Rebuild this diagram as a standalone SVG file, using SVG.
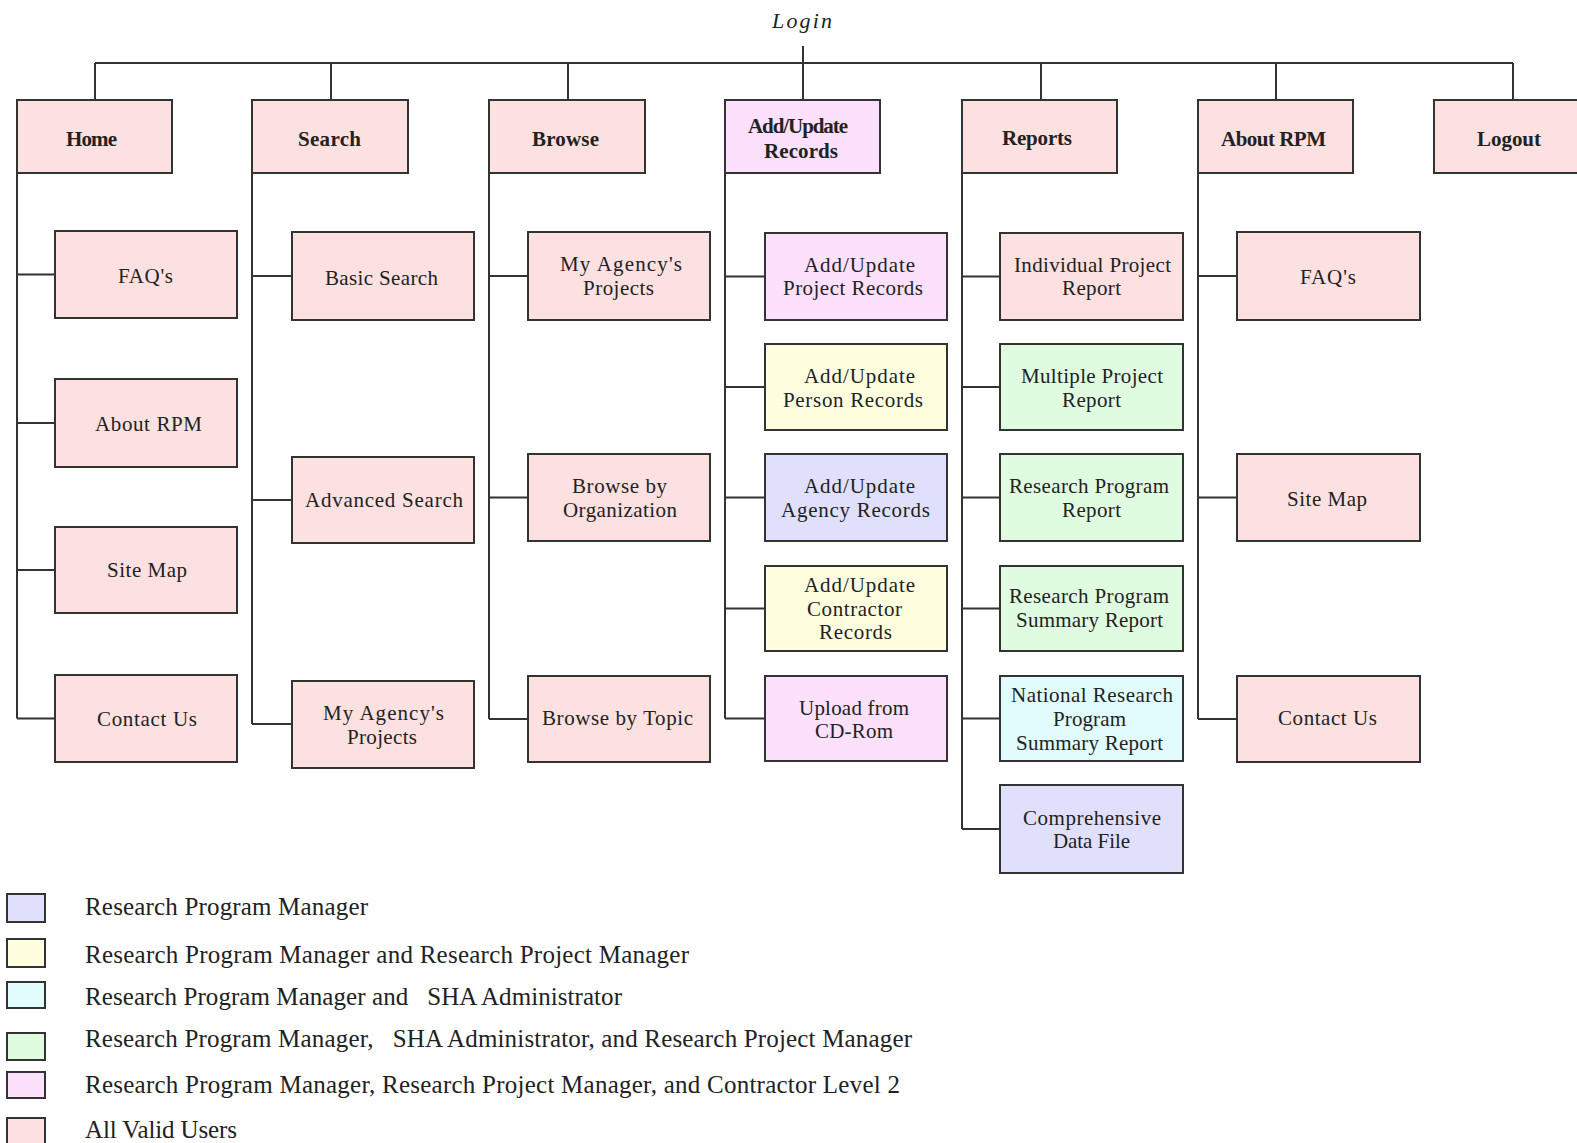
<svg xmlns="http://www.w3.org/2000/svg" width="1577" height="1143" viewBox="0 0 1577 1143">
<style>
  .b{stroke:#333;stroke-width:2}
  .pk{fill:#FDE0E0}
  .lv{fill:#FCE0FC}
  .ye{fill:#FFFFE0}
  .bl{fill:#E0E0FC}
  .gr{fill:#E0FCE0}
  .cy{fill:#E0FCFC}
  text{font-family:"Liberation Serif","Times New Roman",serif;fill:#222}
  .h{font-size:21px;font-weight:bold}
  .t{font-size:21px}
  .lg{font-size:25px}
  .c{fill:none;stroke:#333;stroke-width:2}
</style>
<rect width="1577" height="1143" fill="#fff"/>
<text x="772" y="28" style="font-size:22px;font-style:italic" textLength="60" lengthAdjust="spacing">Login</text>
<g id="connectors">
  <path class="c" d="M803,46V100 M95,63H1513 M95,63V100 M331,63V100 M568,63V100 M1041,63V100 M1276,63V100 M1513,63V100"/>
  <path class="c" d="M17,173V718.5 M17,274.5H55 M17,423H55 M17,570H55 M17,718.5H55"/>
  <path class="c" d="M252,173V724 M252,276H292 M252,500H292 M252,724H292"/>
  <path class="c" d="M489,173V719 M489,276H528 M489,497.5H528 M489,719H528"/>
  <path class="c" d="M725,173V718.5 M725,276.5H765 M725,387H765 M725,497.5H765 M725,608.5H765 M725,718.5H765"/>
  <path class="c" d="M962,173V829 M962,276.5H1000 M962,387H1000 M962,497.5H1000 M962,608.5H1000 M962,718.5H1000 M962,829H1000"/>
  <path class="c" d="M1198,173V719 M1198,276H1237 M1198,497.5H1237 M1198,719H1237"/>
</g>
<g id="home"><rect class="b pk" x="17" y="100" width="155" height="73"/><text class="h" x="66" y="146" textLength="51" lengthAdjust="spacing">Home</text></g>
<g id="search"><rect class="b pk" x="252" y="100" width="156" height="73"/><text class="h" x="298" y="146" textLength="63" lengthAdjust="spacing">Search</text></g>
<g id="browse"><rect class="b pk" x="489" y="100" width="156" height="73"/><text class="h" x="532" y="146" textLength="67" lengthAdjust="spacing">Browse</text></g>
<g id="addupdate"><rect class="b lv" x="725" y="100" width="155" height="73"/><text class="h" x="748" y="133" textLength="100" lengthAdjust="spacing">Add/Update</text><text class="h" x="764" y="158" textLength="74" lengthAdjust="spacing">Records</text></g>
<g id="reports"><rect class="b pk" x="962" y="100" width="155" height="73"/><text class="h" x="1002" y="145" textLength="70" lengthAdjust="spacing">Reports</text></g>
<g id="aboutrpm"><rect class="b pk" x="1198" y="100" width="155" height="73"/><text class="h" x="1221" y="146" textLength="105" lengthAdjust="spacing">About RPM</text></g>
<g id="logout"><rect class="b pk" x="1434" y="100" width="155" height="73"/><text class="h" x="1477" y="146" textLength="64" lengthAdjust="spacing">Logout</text></g>

<g id="home-faq"><rect class="b pk" x="55" y="231" width="182" height="87"/><text class="t" x="118" y="283" textLength="55" lengthAdjust="spacing">FAQ's</text></g>
<g id="home-about"><rect class="b pk" x="55" y="379" width="182" height="88"/><text class="t" x="95" y="431" textLength="107" lengthAdjust="spacing">About RPM</text></g>
<g id="home-sitemap"><rect class="b pk" x="55" y="527" width="182" height="86"/><text class="t" x="107" y="577" textLength="80" lengthAdjust="spacing">Site Map</text></g>
<g id="home-contact"><rect class="b pk" x="55" y="675" width="182" height="87"/><text class="t" x="97" y="726" textLength="100" lengthAdjust="spacing">Contact Us</text></g>

<g id="search-basic"><rect class="b pk" x="292" y="232" width="182" height="88"/><text class="t" x="325" y="285" textLength="113" lengthAdjust="spacing">Basic Search</text></g>
<g id="search-advanced"><rect class="b pk" x="292" y="457" width="182" height="86"/><text class="t" x="305" y="507" textLength="158" lengthAdjust="spacing">Advanced Search</text></g>
<g id="search-myagency"><rect class="b pk" x="292" y="681" width="182" height="87"/><text class="t" x="323" y="720" textLength="121" lengthAdjust="spacing">My Agency's</text><text class="t" x="347" y="744" textLength="70" lengthAdjust="spacing">Projects</text></g>

<g id="browse-myagency"><rect class="b pk" x="528" y="232" width="182" height="88"/><text class="t" x="560" y="271" textLength="122" lengthAdjust="spacing">My Agency's</text><text class="t" x="583" y="295" textLength="71" lengthAdjust="spacing">Projects</text></g>
<g id="browse-org"><rect class="b pk" x="528" y="454" width="182" height="87"/><text class="t" x="572" y="493" textLength="95" lengthAdjust="spacing">Browse by</text><text class="t" x="563" y="517" textLength="114" lengthAdjust="spacing">Organization</text></g>
<g id="browse-topic"><rect class="b pk" x="528" y="676" width="182" height="86"/><text class="t" x="542" y="725" textLength="151" lengthAdjust="spacing">Browse by Topic</text></g>

<g id="add-project"><rect class="b lv" x="765" y="233" width="182" height="87"/><text class="t" x="804" y="272" textLength="111" lengthAdjust="spacing">Add/Update</text><text class="t" x="783" y="295" textLength="140" lengthAdjust="spacing">Project Records</text></g>
<g id="add-person"><rect class="b ye" x="765" y="344" width="182" height="86"/><text class="t" x="804" y="383" textLength="111" lengthAdjust="spacing">Add/Update</text><text class="t" x="783" y="407" textLength="140" lengthAdjust="spacing">Person Records</text></g>
<g id="add-agency"><rect class="b bl" x="765" y="454" width="182" height="87"/><text class="t" x="804" y="493" textLength="111" lengthAdjust="spacing">Add/Update</text><text class="t" x="781" y="517" textLength="149" lengthAdjust="spacing">Agency Records</text></g>
<g id="add-contractor"><rect class="b ye" x="765" y="566" width="182" height="85"/><text class="t" x="804" y="592" textLength="111" lengthAdjust="spacing">Add/Update</text><text class="t" x="807" y="616" textLength="95" lengthAdjust="spacing">Contractor</text><text class="t" x="819" y="639" textLength="73" lengthAdjust="spacing">Records</text></g>
<g id="add-upload"><rect class="b lv" x="765" y="676" width="182" height="85"/><text class="t" x="799" y="715" textLength="110" lengthAdjust="spacing">Upload from</text><text class="t" x="815" y="738" textLength="78" lengthAdjust="spacing">CD-Rom</text></g>

<g id="rep-individual"><rect class="b pk" x="1000" y="233" width="183" height="87"/><text class="t" x="1014" y="272" textLength="157" lengthAdjust="spacing">Individual Project</text><text class="t" x="1062" y="295" textLength="59" lengthAdjust="spacing">Report</text></g>
<g id="rep-multiple"><rect class="b gr" x="1000" y="344" width="183" height="86"/><text class="t" x="1021" y="383" textLength="142" lengthAdjust="spacing">Multiple Project</text><text class="t" x="1062" y="407" textLength="59" lengthAdjust="spacing">Report</text></g>
<g id="rep-program"><rect class="b gr" x="1000" y="454" width="183" height="87"/><text class="t" x="1009" y="493" textLength="160" lengthAdjust="spacing">Research Program</text><text class="t" x="1062" y="517" textLength="59" lengthAdjust="spacing">Report</text></g>
<g id="rep-summary"><rect class="b gr" x="1000" y="566" width="183" height="85"/><text class="t" x="1009" y="603" textLength="160" lengthAdjust="spacing">Research Program</text><text class="t" x="1016" y="627" textLength="147" lengthAdjust="spacing">Summary Report</text></g>
<g id="rep-national"><rect class="b cy" x="1000" y="676" width="183" height="85"/><text class="t" x="1011" y="702" textLength="162" lengthAdjust="spacing">National Research</text><text class="t" x="1053" y="726" textLength="73" lengthAdjust="spacing">Program</text><text class="t" x="1016" y="750" textLength="147" lengthAdjust="spacing">Summary Report</text></g>
<g id="rep-comprehensive"><rect class="b bl" x="1000" y="785" width="183" height="88"/><text class="t" x="1023" y="825" textLength="138" lengthAdjust="spacing">Comprehensive</text><text class="t" x="1053" y="848" textLength="77" lengthAdjust="spacing">Data File</text></g>

<g id="about-faq"><rect class="b pk" x="1237" y="232" width="183" height="88"/><text class="t" x="1300" y="284" textLength="56" lengthAdjust="spacing">FAQ's</text></g>
<g id="about-sitemap"><rect class="b pk" x="1237" y="454" width="183" height="87"/><text class="t" x="1287" y="506" textLength="80" lengthAdjust="spacing">Site Map</text></g>
<g id="about-contact"><rect class="b pk" x="1237" y="676" width="183" height="86"/><text class="t" x="1278" y="725" textLength="99" lengthAdjust="spacing">Contact Us</text></g>

<g id="legend">
  <rect class="b bl" x="7" y="894" width="38" height="28"/>
  <rect class="b ye" x="7" y="939" width="38" height="28"/>
  <rect class="b cy" x="7" y="982" width="38" height="26"/>
  <rect class="b gr" x="7" y="1033" width="38" height="27"/>
  <rect class="b lv" x="7" y="1072" width="38" height="26"/>
  <rect class="b pk" x="7" y="1118" width="38" height="28"/>
  <text class="lg" x="85" y="915" textLength="283" lengthAdjust="spacing">Research Program Manager</text>
  <text class="lg" x="85" y="963" textLength="604" lengthAdjust="spacing">Research Program Manager and Research Project Manager</text>
  <text class="lg" x="85" y="1005" textLength="537" lengthAdjust="spacing" xml:space="preserve">Research Program Manager and   SHA Administrator</text>
  <text class="lg" x="85" y="1047" textLength="827" lengthAdjust="spacing" xml:space="preserve">Research Program Manager,   SHA Administrator, and Research Project Manager</text>
  <text class="lg" x="85" y="1093" textLength="815" lengthAdjust="spacing">Research Program Manager, Research Project Manager, and Contractor Level 2</text>
  <text class="lg" x="85" y="1138" textLength="152" lengthAdjust="spacing">All Valid Users</text>
</g>
</svg>
